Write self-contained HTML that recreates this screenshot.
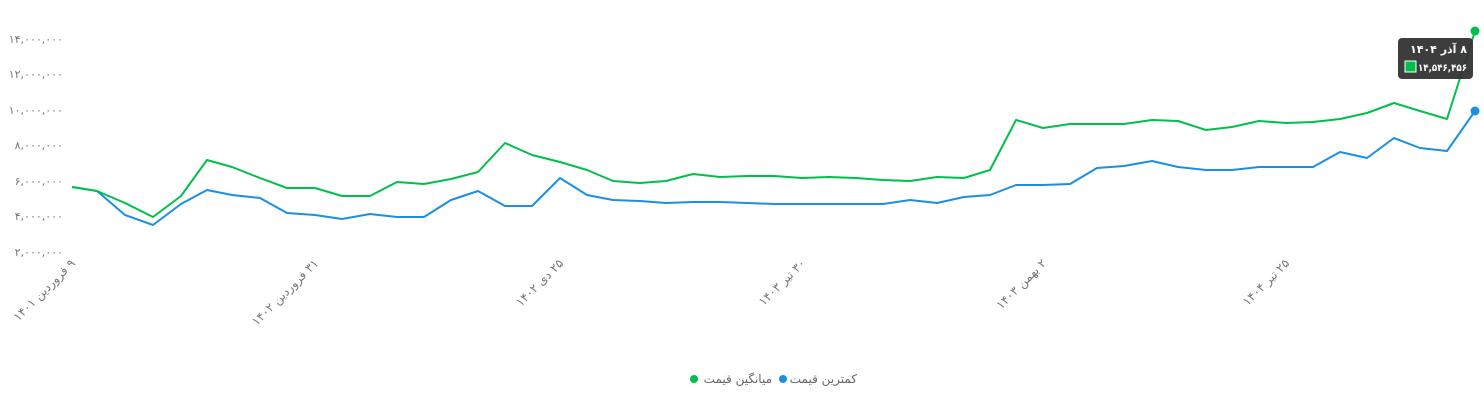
<!DOCTYPE html>
<html><head><meta charset="utf-8"><style>
html,body{margin:0;padding:0;background:#fff;width:1484px;height:400px;overflow:hidden}
text{font-family:"DejaVu Sans","Liberation Sans",sans-serif}
.rtl{direction:rtl;unicode-bidi:embed}
</style></head><body>
<svg width="1484" height="400" xmlns="http://www.w3.org/2000/svg">
<g fill="#777" font-size="11" text-anchor="end">
<text x="63" y="43">۱۴,۰۰۰,۰۰۰</text>
<text x="63" y="78">۱۲,۰۰۰,۰۰۰</text>
<text x="63" y="114">۱۰,۰۰۰,۰۰۰</text>
<text x="63" y="149">۸,۰۰۰,۰۰۰</text>
<text x="63" y="185">۶,۰۰۰,۰۰۰</text>
<text x="63" y="220">۴,۰۰۰,۰۰۰</text>
<text x="63" y="256">۲,۰۰۰,۰۰۰</text>
</g>
<g fill="#777" font-size="12" text-anchor="start" direction="rtl" class="rtl">
<text transform="translate(76,264) rotate(-45)">۹ فروردین ۱۴۰۱</text>
<text transform="translate(319,264) rotate(-45)">۳۱ فروردین ۱۴۰۲</text>
<text transform="translate(564,264) rotate(-45)">۲۵ دی ۱۴۰۲</text>
<text transform="translate(806,264) rotate(-45)">۳۰ تیر ۱۴۰۳</text>
<text transform="translate(1047,264) rotate(-45)">۲ بهمن ۱۴۰۳</text>
<text transform="translate(1290,264) rotate(-45)">۲۵ تیر ۱۴۰۴</text>
</g>
<polyline fill="none" stroke="#1a8fe3" stroke-width="2" stroke-linejoin="round" points="72,187 97,191 125,215 153,225 181,204 207,190 232,195 260,198 287,213 315,215 342,219 370,214 397,217 424,217 451,200 478,191 505,206 532,206 560,178 587,195 613,200 640,201 666,203 693,202 720,202 747,203 774,204 802,204 829,204 856,204 883,204 910,200 937,203 964,197 990,195 1016,185 1043,185 1070,184 1097,168 1124,166 1152,161 1178,167 1206,170 1232,170 1259,167 1286,167 1313,167 1340,152 1367,158 1394,138 1420,148 1447,151 1475,111"/>
<polyline fill="none" stroke="#00c04b" stroke-width="2" stroke-linejoin="round" points="72,187 97,191 125,203 153,217 181,196 207,160 232,167 260,178 287,188 315,188 342,196 370,196 397,182 424,184 451,179 478,172 505,143 532,155 560,162 587,170 613,181 640,183 666,181 693,174 720,177 747,176 774,176 802,178 829,177 856,178 883,180 910,181 937,177 964,178 990,170 1016,120 1043,128 1070,124 1097,124 1124,124 1152,120 1178,121 1206,130 1232,127 1259,121 1286,123 1313,122 1340,119 1367,113 1394,103 1420,111 1447,119 1475,31"/>
<circle cx="1475" cy="111" r="4.5" fill="#1a8fe3"/>
<circle cx="1475" cy="31" r="4.5" fill="#00c04b"/>
<rect x="1398" y="38" width="75" height="41" rx="4" fill="#333" fill-opacity="0.95"/>
<text x="1467" y="53" fill="#fff" font-size="11" font-weight="bold" text-anchor="start" direction="rtl" class="rtl">۸ آذر ۱۴۰۴</text>
<rect x="1405" y="61" width="11" height="11" fill="#00c04b" stroke="#fff" stroke-width="1"/>
<text x="1418" y="71" fill="#fff" font-size="10" font-weight="bold" text-anchor="start" textLength="49" lengthAdjust="spacingAndGlyphs">۱۴,۵۴۶,۴۵۶</text>
<circle cx="694" cy="379" r="4" fill="#00c04b"/>
<text x="772" y="383" fill="#666" font-size="12" text-anchor="start" direction="rtl" class="rtl">میانگین قیمت</text>
<circle cx="783" cy="379" r="4" fill="#1a8fe3"/>
<text x="857" y="383" fill="#666" font-size="12" text-anchor="start" direction="rtl" class="rtl">کمترین قیمت</text>
</svg>
</body></html>
